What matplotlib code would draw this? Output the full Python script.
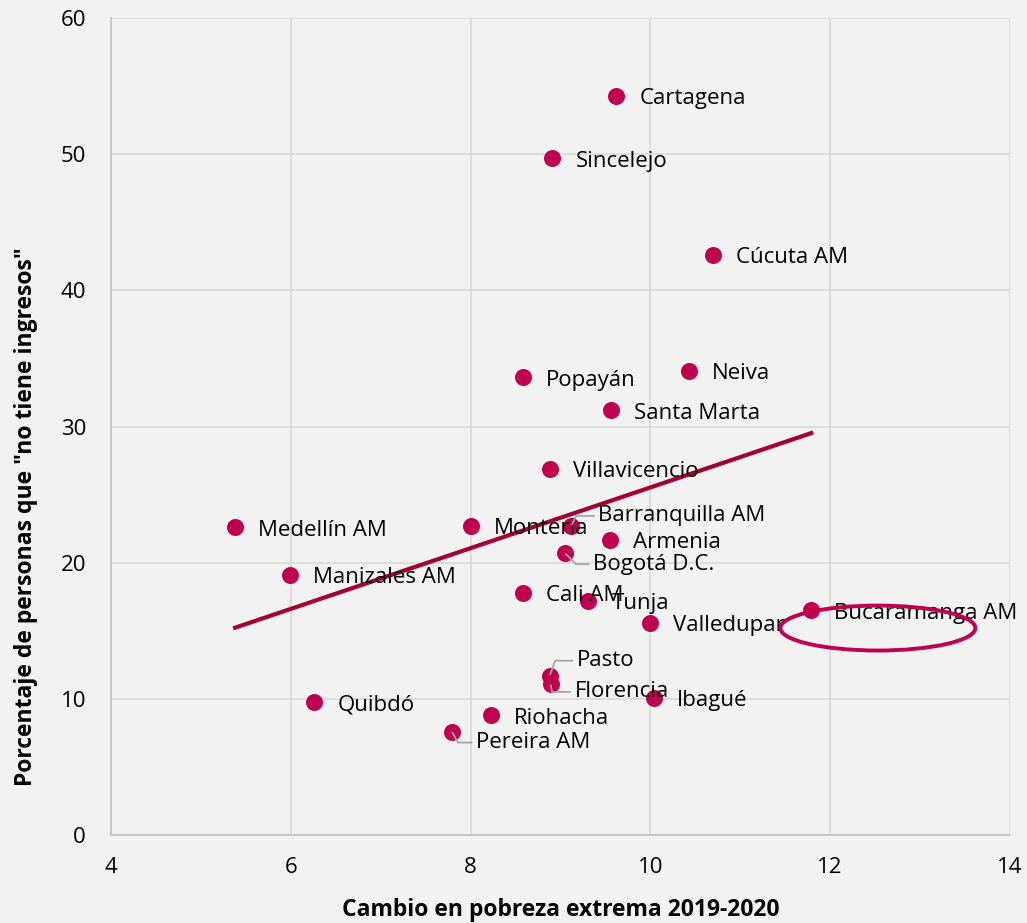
import numpy as np
import matplotlib
matplotlib.use("Agg")
import matplotlib.pyplot as plt
from matplotlib.patches import Ellipse

plt.rcParams['font.family'] = ['Open Sans', 'DejaVu Sans']

cities = ["Cartagena", "Sincelejo", "Cúcuta AM", "Neiva", "Popayán", "Santa Marta",
          "Villavicencio", "Medellín AM", "Montería", "Barranquilla AM", "Armenia",
          "Bogotá D.C.", "Manizales AM", "Cali AM", "Tunja", "Valledupar",
          "Bucaramanga AM", "Pasto", "Florencia", "Ibagué", "Quibdó", "Riohacha",
          "Pereira AM"]
cambio_pobreza = [9.62, 8.91, 10.70, 10.43, 8.58, 9.56,
                  8.88, 5.38, 8.00, 9.12, 9.55,
                  9.05, 5.99, 8.58, 9.31, 10.00,
                  11.79, 8.88, 8.89, 10.04, 6.26, 8.23,
                  7.79]
sin_ingresos = [54.3, 49.7, 42.6, 34.1, 33.6, 31.2,
                26.9, 22.6, 22.7, 22.7, 21.7,
                20.7, 19.1, 17.8, 17.2, 15.6,
                16.5, 11.7, 11.1, 10.1, 9.8, 8.8,
                7.6]

# label offsets in pixels (style only)
default_off = (23, -3)
special_off = {
    "Barranquilla AM": (27, 10),
    "Bogotá D.C.": (28, -11),
    "Pasto": (27, 15),
    "Florencia": (24, -8),
    "Pereira AM": (24, -11),
}
leader = {"Barranquilla AM": 65, "Bogotá D.C.": -45, "Pasto": 70,
          "Florencia": -80, "Pereira AM": -60}

fig = plt.figure(figsize=(10.27, 9.23), dpi=100, facecolor='#f2f2f2')
ax = fig.add_axes([0.1081, 0.0953, 0.8753, 0.8852], facecolor='#f2f2f2')

ax.set_xlim(4, 14)
ax.set_ylim(0, 60)
ax.set_xticks(np.arange(4, 15, 2))
ax.set_yticks(np.arange(0, 61, 10))
ax.grid(True, color='#d9d9d9', linewidth=1.2)
ax.set_axisbelow(True)
for s in ['top', 'right']:
    ax.spines[s].set_visible(False)
for s in ['left', 'bottom']:
    ax.spines[s].set_color('#bfbfbf')
    ax.spines[s].set_linewidth(1.2)
ax.tick_params(length=0, labelsize=16, colors='#000000')
ax.tick_params(axis='y', pad=18)
ax.tick_params(axis='x', pad=16)

x = np.array(cambio_pobreza)
y = np.array(sin_ingresos)
m, b = np.polyfit(x, y, 1)
xs = np.array([x.min(), x.max()])
ax.plot(xs, m * xs + b, color='#a50034', linewidth=3, zorder=2)

ax.scatter(x, y, s=150, color='#c0004f', zorder=3, linewidths=0)

for name, xi, yi in zip(cities, x, y):
    off = special_off.get(name, default_off)
    kw = {}
    if name in leader:
        kw['arrowprops'] = dict(arrowstyle='-', color='#a6a6a6', lw=1.3,
                                shrinkA=1, shrinkB=1, relpos=(0, 0.5),
                                connectionstyle='angle,angleA=180,angleB=%d,rad=0' % leader[name])
    ax.annotate(name, (xi, yi), xytext=off, textcoords='offset pixels',
                ha='left', va='center', fontsize=16, color='#000000', zorder=4, **kw)

ax.add_patch(Ellipse((12.53, 15.2), 2.17, 3.3, fill=False, edgecolor='#c0004f',
                     linewidth=2.8, zorder=5))

ax.set_xlabel('Cambio en pobreza extrema 2019-2020', fontsize=16.5, fontweight='bold', labelpad=14)
ax.set_ylabel('Porcentaje de personas que "no tiene ingresos"', fontsize=16.5,
              fontweight='bold', labelpad=12)
ax.yaxis.set_label_coords(-0.081, 0.39)

fig.savefig('out.png', dpi=100, facecolor='#f2f2f2')
